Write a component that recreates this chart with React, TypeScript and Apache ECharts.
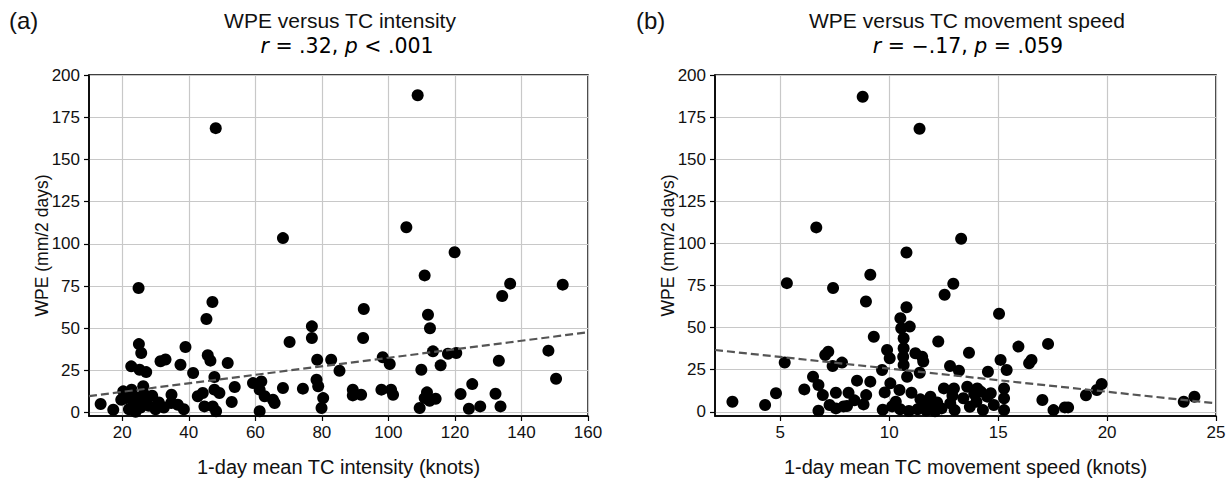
import React, { useEffect, useRef } from "react";
import * as echarts from "echarts";

// Panel (a): 1-day mean TC intensity (knots) vs WPE (mm/2 days)
const intensityPoints: number[][] = [
  [13.5, 5.1], [17.3, 1.7], [20.3, 12.6], [22.8, 13.6], [21.3, 8.6], [19.7, 7.6],
  [23.5, 5.5], [24.5, 9], [25.5, 3], [26.3, 15.6], [27, 7], [28, 4], [29, 10],
  [30, 2], [22, 2], [24, 0.5], [26.5, 11], [31, 6], [32.5, 3], [25, 40.6],
  [25.7, 35.3], [22.7, 27.4], [25.2, 25.4], [27.2, 24], [24.9, 73.8], [31.5, 30.4],
  [33, 31.5], [34.8, 10.6], [34.7, 5.7], [36.7, 4.7], [37.5, 28.4], [39, 38.9],
  [41.3, 23.5], [38.5, 2], [42.7, 9.7], [44.2, 11.6], [45.3, 55.5], [45.7, 34],
  [46.5, 30.8], [47.1, 65.5], [47.7, 21.1], [47.7, 13.6], [49.2, 11.6], [44.7, 3.7],
  [47.2, 3.7], [48.2, 0.8], [48.1, 168.5], [51.7, 29.4], [52.9, 6.3], [53.8, 15.2],
  [59.3, 17.5], [61.8, 18.5], [61.3, 13.6], [62.8, 9.7], [61.3, 0.8], [65.3, 7.6],
  [65.8, 5.7], [68.3, 14.6], [68.3, 103.4], [70.3, 41.8], [74.3, 14.2], [77, 51.1],
  [77, 44.2], [78.6, 31.3], [78.4, 19.5], [78.9, 15.6], [80.4, 8.6], [79.9, 2.7],
  [82.8, 31.3], [85.3, 24.8], [89.3, 13.6], [89.3, 10.2], [91.8, 10.6], [92.4, 44.2],
  [92.6, 61.4], [97.9, 13.6], [98.3, 32.8], [100.4, 28.8], [100.8, 13.6], [101.4, 10.6],
  [105.4, 109.8], [108.8, 188], [109.9, 25.4], [109.4, 2.7], [110.9, 8.6], [110.9, 81.3],
  [112.5, 50], [111.9, 58], [111.6, 12], [112.4, 7], [113.4, 36.3], [114.2, 8.2],
  [115.7, 28], [117.9, 34.9], [119.9, 95], [120.4, 35.3], [121.7, 11], [124.2, 2.3],
  [125.2, 16.9], [127.6, 3.7], [132.2, 11.2], [133.2, 30.7], [133.7, 3.7], [134.2, 69.1],
  [136.6, 76.4], [148.1, 36.7], [150.4, 20.1], [152.4, 75.8],
];
const intensityTrend: number[][] = [[10, 9.8], [160, 47.6]];
const intensityTicks: number[] = [20, 40, 60, 80, 100, 120, 140, 160];

// Panel (b): 1-day mean TC movement speed (knots) vs WPE (mm/2 days)
const speedPoints: number[][] = [
  [2.8, 6], [4.3, 4], [4.8, 11], [5.2, 29.2], [5.3, 76.4], [6.1, 13.3], [6.5, 20.8],
  [6.65, 109.5], [6.75, 15.9], [6.95, 9.9], [6.75, 0.6], [7.06, 33.7], [7.2, 35.7],
  [7.4, 27.2], [7.42, 73.5], [7.83, 29.2], [7.26, 4], [7.55, 11.3], [7.55, 2],
  [8.06, 3.4], [8.13, 11.3], [8.52, 18.5], [8.78, 187.1], [8.82, 4.4], [8.93, 65.5],
  [8.94, 9.9], [9.13, 17.9], [9.13, 81.4], [9.29, 44.6], [9.67, 24.8], [9.9, 36.7],
  [10.02, 31.8], [9.79, 11.5], [10.05, 16.9], [10.13, 3.2], [10.47, 12.9], [10.51, 55.6],
  [10.55, 49.6], [10.66, 43.7], [10.79, 62.1], [10.79, 94.6], [10.94, 50.6], [10.66, 37.7],
  [10.64, 32.7], [10.66, 27.8], [10.82, 20.8], [11.02, 11.3], [11.2, 34.8], [11.39, 168.1],
  [11.51, 32.7], [11.56, 29.8], [11.4, 23.2], [11.43, 7.4], [11.89, 8.9], [10.5, 1.5],
  [10.9, 0.5], [11.3, 1.5], [11.7, 0.8], [12.1, 0.3], [12.25, 41.7], [12.51, 13.9],
  [12.54, 69.5], [12.79, 27.2], [12.94, 76], [12.97, 13.9], [13.2, 24.4], [13.3, 102.8],
  [13.66, 35.1], [13.58, 14.9], [14.04, 13.9], [14.53, 23.8], [14.66, 11], [15.04, 58.2],
  [15.11, 30.8], [15.39, 24.8], [15.27, 13.9], [15.27, 8], [15.27, 1], [15.93, 38.7],
  [16.42, 28.8], [16.53, 30.8], [17.29, 40.3], [17.03, 7], [17.54, 1], [18.06, 2.6],
  [18.21, 2.6], [19.03, 9.8], [19.53, 12.9], [19.75, 16.5], [23.52, 6], [24.01, 8.9],
  [12.4, 2], [12.8, 5], [13.0, 1], [13.4, 8], [13.7, 3], [14.0, 6], [14.3, 1], [14.5, 9],
  [14.8, 4], [14.2, 12], [12.2, 5.5], [13.9, 10.5], [12.9, 9.5], [11.9, 3.5], [9.7, 1.2],
  [10.3, 6], [11.6, 4], [8.4, 6.8], [7.9, 3.2],
];
const speedTrend: number[][] = [[2, 36.7], [25, 5]];
const speedTicks: number[] = [5, 10, 15, 20, 25];

const wpeTicks: number[] = [0, 25, 50, 75, 100, 125, 150, 175, 200];

const FONT = "'Liberation Sans', Arial, sans-serif";

export default function App() {
  const ref = useRef<HTMLDivElement>(null);

  useEffect(() => {
    if (!ref.current) return;
    const chart = echarts.init(ref.current, undefined, { renderer: "svg" });

    const gridStyle = {
      show: true,
      borderColor: "#000",
      borderWidth: 1.5,
      backgroundColor: "transparent",
    };
    const mkX = (gridIndex: number, min: number, max: number, ticks: number[], name: string) => ({
      type: "value",
      gridIndex,
      min,
      max,
      name,
      nameLocation: "middle",
      nameGap: 41,
      nameMoveOverlap: false,
      nameTextStyle: { fontFamily: FONT, fontSize: 20, color: "#111" },
      axisLine: { show: true, onZero: false, lineStyle: { color: "#000", width: 1.5 } },
      axisTick: { show: true, inside: false, length: 5, customValues: ticks, lineStyle: { color: "#000", width: 1.2 } },
      axisLabel: { customValues: ticks, margin: 8, fontFamily: FONT, fontSize: 17, color: "#111" },
      splitLine: { show: true, lineStyle: { color: "#c8c8c8", width: 1.2 } },
    });
    const mkY = (gridIndex: number, min: number) => ({
      type: "value",
      gridIndex,
      min,
      max: 200,
      name: "WPE (mm/2 days)",
      nameLocation: "middle",
      nameGap: 38,
      nameMoveOverlap: false,
      nameTextStyle: { fontFamily: FONT, fontSize: 17.5, color: "#111" },
      axisLine: { show: true, onZero: false, lineStyle: { color: "#000", width: 1.5 } },
      axisTick: { show: true, inside: false, length: 5, customValues: wpeTicks, lineStyle: { color: "#000", width: 1.2 } },
      axisLabel: { customValues: wpeTicks, margin: 9, fontFamily: FONT, fontSize: 17, color: "#111" },
      splitLine: { show: true, lineStyle: { color: "#c8c8c8", width: 1.2 } },
    });

    const titleFont = `21px ${FONT}`;
    const rich = {
      i: { fontFamily: "'DejaVu Sans', sans-serif", fontStyle: "italic", fontSize: 20.5, color: "#111" },
      n: { fontFamily: "'DejaVu Sans', sans-serif", fontSize: 20.5, color: "#111" },
    };

    chart.setOption({
      animation: false,
      backgroundColor: "#fff",
      grid: [
        { left: 89, top: 75, width: 499, height: 341, ...gridStyle },
        { left: 715, top: 75, width: 501, height: 341, ...gridStyle },
      ],
      xAxis: [
        mkX(0, 10, 160, intensityTicks, "1-day mean TC intensity (knots)"),
        mkX(1, 2, 25, speedTicks, "1-day mean TC movement speed (knots)"),
      ],
      yAxis: [mkY(0, -2), mkY(1, -2.5)],
      series: [
        {
          type: "scatter", xAxisIndex: 0, yAxisIndex: 0, data: intensityPoints,
          symbolSize: 12, itemStyle: { color: "#000", opacity: 1 }, z: 3,
        },
        {
          type: "line", xAxisIndex: 0, yAxisIndex: 0, data: intensityTrend, symbol: "none",
          lineStyle: { color: "#555", width: 2.2, type: [8, 4] }, z: 4,
        },
        {
          type: "scatter", xAxisIndex: 1, yAxisIndex: 1, data: speedPoints,
          symbolSize: 12, itemStyle: { color: "#000", opacity: 1 }, z: 3,
        },
        {
          type: "line", xAxisIndex: 1, yAxisIndex: 1, data: speedTrend, symbol: "none",
          lineStyle: { color: "#555", width: 2.2, type: [8, 4] }, z: 4,
        },
      ],
      graphic: [
        { type: "text", x: 9, y: 20, style: { text: "(a)", font: `24px ${FONT}`, fill: "#111", textAlign: "left", textVerticalAlign: "middle" } },
        { type: "text", x: 636, y: 20, style: { text: "(b)", font: `24px ${FONT}`, fill: "#111", textAlign: "left", textVerticalAlign: "middle" } },
        { type: "text", x: 340, y: 20, style: { text: "WPE versus TC intensity", font: titleFont, fill: "#111", textAlign: "center", textVerticalAlign: "middle" } },
        { type: "text", x: 967, y: 20, style: { text: "WPE versus TC movement speed", font: titleFont, fill: "#111", textAlign: "center", textVerticalAlign: "middle" } },
        {
          type: "text", x: 347, y: 46,
          style: { text: "{i|r}{n| = .32, }{i|p}{n| < .001}", rich, textAlign: "center", textVerticalAlign: "middle" },
        },
        {
          type: "text", x: 968, y: 46,
          style: { text: "{i|r}{n| = \u2212.17, }{i|p}{n| = .059}", rich, textAlign: "center", textVerticalAlign: "middle" },
        },
      ],
    });

    return () => chart.dispose();
  }, []);

  return (
    <div
      ref={ref}
      style={{ position: "fixed", left: 0, top: 0, width: 1231, height: 483, background: "#fff" }}
    />
  );
}
